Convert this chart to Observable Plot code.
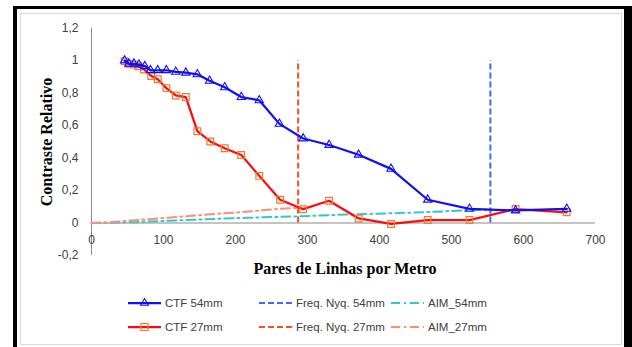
<!DOCTYPE html>
<html>
<head>
<meta charset="utf-8">
<script src="https://cdn.jsdelivr.net/npm/d3@7"></script>
<script src="https://cdn.jsdelivr.net/npm/@observablehq/plot@0.6"></script>
<style>
  html, body { margin: 0; padding: 0; background: #fff; }
  #wrap { position: relative; width: 632px; height: 347px; overflow: hidden; background: #fff; }
  #black { position: absolute; left: 13px; top: 6px; width: 619px; height: 360px; background: #000; }
  #white { position: absolute; left: 17px; top: 9px; width: 607px; height: 360px; background: #fff; }
  #grey { position: absolute; left: 20px; top: 13px; width: 600px; height: 330px; border: 1px solid #d9d9d9; }
  #plot, #overlay { position: absolute; left: 0; top: 0; }
</style>
</head>
<body>
<div id="wrap">
  <div id="black"></div>
  <div id="white"></div>
  <div id="grey"></div>
  <div id="plot"></div>
  <svg id="overlay" width="632" height="347"></svg>
</div>
<script>
// ---- data ----
const ctf54X = [46, 52, 59, 66, 74, 82, 92, 104, 117, 131, 147, 164, 185, 208, 233, 261, 294, 330, 371, 416, 467, 525, 589, 660];
const ctf54Y = [1.0, 0.98, 0.98, 0.975, 0.965, 0.94, 0.94, 0.94, 0.93, 0.925, 0.915, 0.875, 0.835, 0.775, 0.755, 0.61, 0.52, 0.48, 0.42, 0.333, 0.143, 0.087, 0.077, 0.087];
const ctf27X = [46, 52, 59, 65, 73, 83, 92, 104, 117, 131, 147, 165, 185, 208, 233, 262, 294, 330, 371, 416, 467, 525, 589, 660];
const ctf27Y = [0.995, 0.98, 0.975, 0.965, 0.945, 0.905, 0.885, 0.83, 0.785, 0.775, 0.565, 0.502, 0.46, 0.418, 0.29, 0.143, 0.085, 0.137, 0.028, -0.006, 0.018, 0.018, 0.086, 0.066];
const aim54X = [0, 60, 140, 215, 280, 340, 380, 460, 520, 555];
const aim54Y = [0, 0.005, 0.02, 0.032, 0.04, 0.05, 0.055, 0.066, 0.078, 0.083];
const aim27X = [0, 22, 45, 97, 160, 212, 262, 292];
const aim27Y = [0, 0.003, 0.012, 0.03, 0.052, 0.068, 0.088, 0.094];
const nyq54 = 554;
const nyq27 = 287;
const xTicks = [0, 100, 200, 300, 400, 500, 600, 700];
const yTicks = [-0.2, 0, 0.2, 0.4, 0.6, 0.8, 1.0, 1.2];
const seriesNames = ["CTF 54mm", "Freq. Nyq. 54mm", "AIM_54mm", "CTF 27mm", "Freq. Nyq. 27mm", "AIM_27mm"];

const colBlue = "#1010f0", colRed = "#ff0a0a", colSq = "#f07a30", colNyqB = "#3c6cf2",
      colNyqR = "#ff4a26", colTeal = "#33c8c8", colSalmon = "#ff8e78";

const zip = (xs, ys) => xs.map((x, i) => ({x, y: ys[i]}));
const c54 = zip(ctf54X, ctf54Y), c27 = zip(ctf27X, ctf27Y);
const a54 = zip(aim54X, aim54Y), a27 = zip(aim27X, aim27Y);
const fmt = d => (Math.round(d * 10) / 10).toString().replace(".", ",");

const chart = Plot.plot({
  width: 632, height: 347,
  marginLeft: 91, marginRight: 37, marginTop: 27.5, marginBottom: 92,
  x: {domain: [0, 700], axis: null},
  y: {domain: [-0.2, 1.2], axis: null},
  style: {fontFamily: "Liberation Sans, Arial, sans-serif", fontSize: "12px", background: "transparent", color: "#404040", overflow: "visible"},
  marks: [
    Plot.ruleX([0], {y1: -0.2, y2: 1.2, stroke: "#8a8a8a", strokeWidth: 1}),
    Plot.ruleY([0], {x1: 0, x2: 700, stroke: "#8a8a8a", strokeWidth: 1}),
    Plot.text(yTicks, {x: 0, y: d => d, text: fmt, textAnchor: "end", dx: -13, fill: "#404040"}),
    Plot.text(xTicks, {x: d => d, y: 0, text: d => String(d), dy: 17, fill: "#404040"}),
    Plot.line(a54, {x: "x", y: "y", stroke: colTeal, strokeWidth: 2, strokeDasharray: "9,4,2,4"}),
    Plot.line(a27, {x: "x", y: "y", stroke: colSalmon, strokeWidth: 2, strokeDasharray: "9,4,2,4"}),
    Plot.ruleX([nyq54], {y1: 0, y2: 1, stroke: colNyqB, strokeWidth: 2, strokeDasharray: "6,3"}),
    Plot.ruleX([nyq27], {y1: 0, y2: 1, stroke: colNyqR, strokeWidth: 2, strokeDasharray: "6,3"}),
    Plot.line(c27, {x: "x", y: "y", stroke: colRed, strokeWidth: 2.25}),
    Plot.dot(c27, {x: "x", y: "y", symbol: "square", r: 3.8, stroke: colSq, strokeWidth: 1.2, fill: "none"}),
    Plot.line(c54, {x: "x", y: "y", stroke: colBlue, strokeWidth: 2.25}),
    Plot.dot(c54, {x: "x", y: "y", symbol: "triangle", r: 3.1, stroke: colBlue, strokeWidth: 1.1, fill: "none"})
  ]
});
document.getElementById("plot").appendChild(chart);

// ---- titles and legend ----
const svg = d3.select("#overlay");
svg.append("text").attr("x", 345).attr("y", 274).attr("text-anchor", "middle")
  .attr("font-family", "Liberation Serif, Times New Roman, serif").attr("font-weight", "bold")
  .attr("font-size", 16).attr("fill", "#000").text("Pares de Linhas por Metro");
svg.append("text").attr("transform", "translate(52,142) rotate(-90)").attr("text-anchor", "middle")
  .attr("font-family", "Liberation Serif, Times New Roman, serif").attr("font-weight", "bold")
  .attr("font-size", 16).attr("fill", "#000").text("Contraste Relativo");

const legendItems = [
  {name: seriesNames[0], col: 0, row: 0, stroke: colBlue, dash: null, marker: "tri", mcol: colBlue},
  {name: seriesNames[1], col: 1, row: 0, stroke: colNyqB, dash: "6,3"},
  {name: seriesNames[2], col: 2, row: 0, stroke: colTeal, dash: "9,4,2,4"},
  {name: seriesNames[3], col: 0, row: 1, stroke: colRed, dash: null, marker: "sq", mcol: colSq},
  {name: seriesNames[4], col: 1, row: 1, stroke: colNyqR, dash: "6,3"},
  {name: seriesNames[5], col: 2, row: 1, stroke: colSalmon, dash: "9,4,2,4"}
];
const colX = [128, 259, 391];
const rowY = [303, 327];
legendItems.forEach(it => {
  const x0 = colX[it.col], y = rowY[it.row];
  const g = svg.append("g");
  g.append("line").attr("x1", x0).attr("x2", x0 + 33).attr("y1", y).attr("y2", y)
    .attr("stroke", it.stroke).attr("stroke-width", it.dash ? 2 : 2.25)
    .attr("stroke-dasharray", it.dash);
  if (it.marker === "tri") {
    const cx = x0 + 16.5;
    g.append("path").attr("d", d3.symbol(d3.symbolTriangle, 26)()).attr("transform", `translate(${cx},${y})`)
      .attr("fill", "none").attr("stroke", it.mcol).attr("stroke-width", 1.1);
  } else if (it.marker === "sq") {
    const cx = x0 + 16.5;
    g.append("rect").attr("x", cx - 3.5).attr("y", y - 3.5).attr("width", 7).attr("height", 7)
      .attr("fill", "none").attr("stroke", it.mcol).attr("stroke-width", 1.2);
  }
  g.append("text").attr("x", x0 + 37).attr("y", y).attr("dy", "0.35em")
    .attr("font-family", "Liberation Sans, Arial, sans-serif").attr("font-size", 11.5)
    .attr("fill", "#404040").text(it.name);
});
</script>
</body>
</html>
